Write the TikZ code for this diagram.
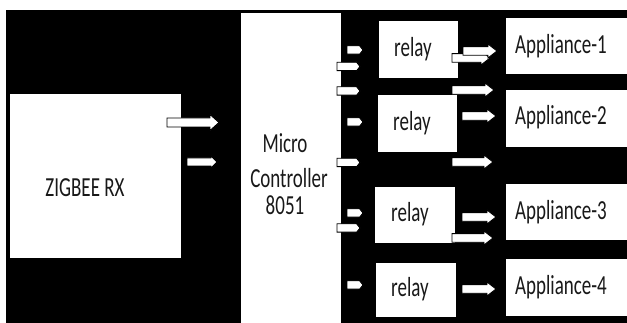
\documentclass[tikz,border=0pt]{standalone}
\usepackage{fontspec}
\usepackage{graphicx}
\setmainfont{Carlito}
\newcommand{\vs}[1]{\scalebox{1}[1.45]{#1}}
\newcommand{\blkarrow}[6]{%
  \draw[arrowbox] (#1,#3-#4) -- (#2-#6,#3-#4) -- (#2-#6,#3-#5) -- (#2,#3)
    -- (#2-#6,#3+#5) -- (#2-#6,#3+#4) -- (#1,#3+#4) -- cycle;}
\newcommand{\bigarr}[3]{\blkarrow{#1}{#2}{#3}{4.3}{7}{9}}
\newcommand{\smallarr}[3]{\blkarrow{#1}{#2}{#3}{4.2}{5}{4}}
\begin{document}
\begin{tikzpicture}[x=1pt,y=-1pt,
  box/.style={draw=black, fill=white, line width=0.6pt, inner sep=0pt, anchor=north west},
  lbl/.style={font=\fontsize{19}{19}\selectfont, text=black!90, inner sep=0pt},
  arrowbox/.style={draw=black, fill=white, line width=0.9pt, line join=miter}]
\useasboundingbox (0,0) rectangle (627,323);
\fill[white] (0,0) rectangle (627,323);
\fill[black] (6,10) rectangle (627,323);
% boxes
\node[box, minimum width=172pt, minimum height=165pt] (zig) at (9,93) {};
\node[box, minimum width=101pt, minimum height=313pt] (mc) at (240,12) {};
\node[box, minimum width=80pt, minimum height=58pt] (r1) at (378,20) {};
\node[box, minimum width=80pt, minimum height=58pt] (r2) at (377,94) {};
\node[box, minimum width=81pt, minimum height=57pt] (r3) at (374,186) {};
\node[box, minimum width=81pt, minimum height=55pt] (r4) at (375,262) {};
\node[box, minimum width=125pt, minimum height=57pt] (ap1) at (505,17) {};
\node[box, minimum width=125pt, minimum height=58pt] (ap2) at (505,89) {};
\node[box, minimum width=125pt, minimum height=57pt] (ap3) at (505,183) {};
\node[box, minimum width=125pt, minimum height=58pt] (ap4) at (505,258) {};
% labels
\node[lbl] (tzig) at (85,188) {\vs{ZIGBEE RX}};
\node[lbl] (tmc1) at (285,143) {\vs{Micro}};
\node[lbl] (tmc2) at (289,178) {\vs{Controller}};
\node[lbl] (tmc3) at (285,205) {\vs{8051}};
\node[lbl] (tr1) at (413,49) {\vs{relay}};
\node[lbl] (tr2) at (412,123) {\vs{relay}};
\node[lbl] (tr3) at (410,214) {\vs{relay}};
\node[lbl] (tr4) at (410,289) {\vs{relay}};
\node[lbl] (ta1) at (561,46) {\vs{Appliance-1}};
\node[lbl] (ta2) at (561,117) {\vs{Appliance-2}};
\node[lbl] (ta3) at (561,212) {\vs{Appliance-3}};
\node[lbl] (ta4) at (561,287) {\vs{Appliance-4}};
% arrows ZIGBEE -> MC
\blkarrow{167}{219}{122.5}{4.5}{8}{9}
\blkarrow{187}{217}{162}{4}{6}{6}
% arrows MC -> relays
\smallarr{347}{363}{50}
\smallarr{337}{360}{66.5}
\smallarr{337}{360}{91}
\smallarr{347}{363}{122}
\smallarr{337}{360}{162.5}
\smallarr{347}{363}{213}
\smallarr{337}{360}{228}
\smallarr{347}{363}{285}
% arrows relays -> appliances
\bigarr{452}{490}{58}
\bigarr{463}{497}{51}
\bigarr{452}{494}{90}
\bigarr{462}{496}{116}
\bigarr{452}{493}{162}
\bigarr{462}{496}{217}
\bigarr{452}{493}{238}
\bigarr{462}{496}{289}
\end{tikzpicture}
\end{document}
